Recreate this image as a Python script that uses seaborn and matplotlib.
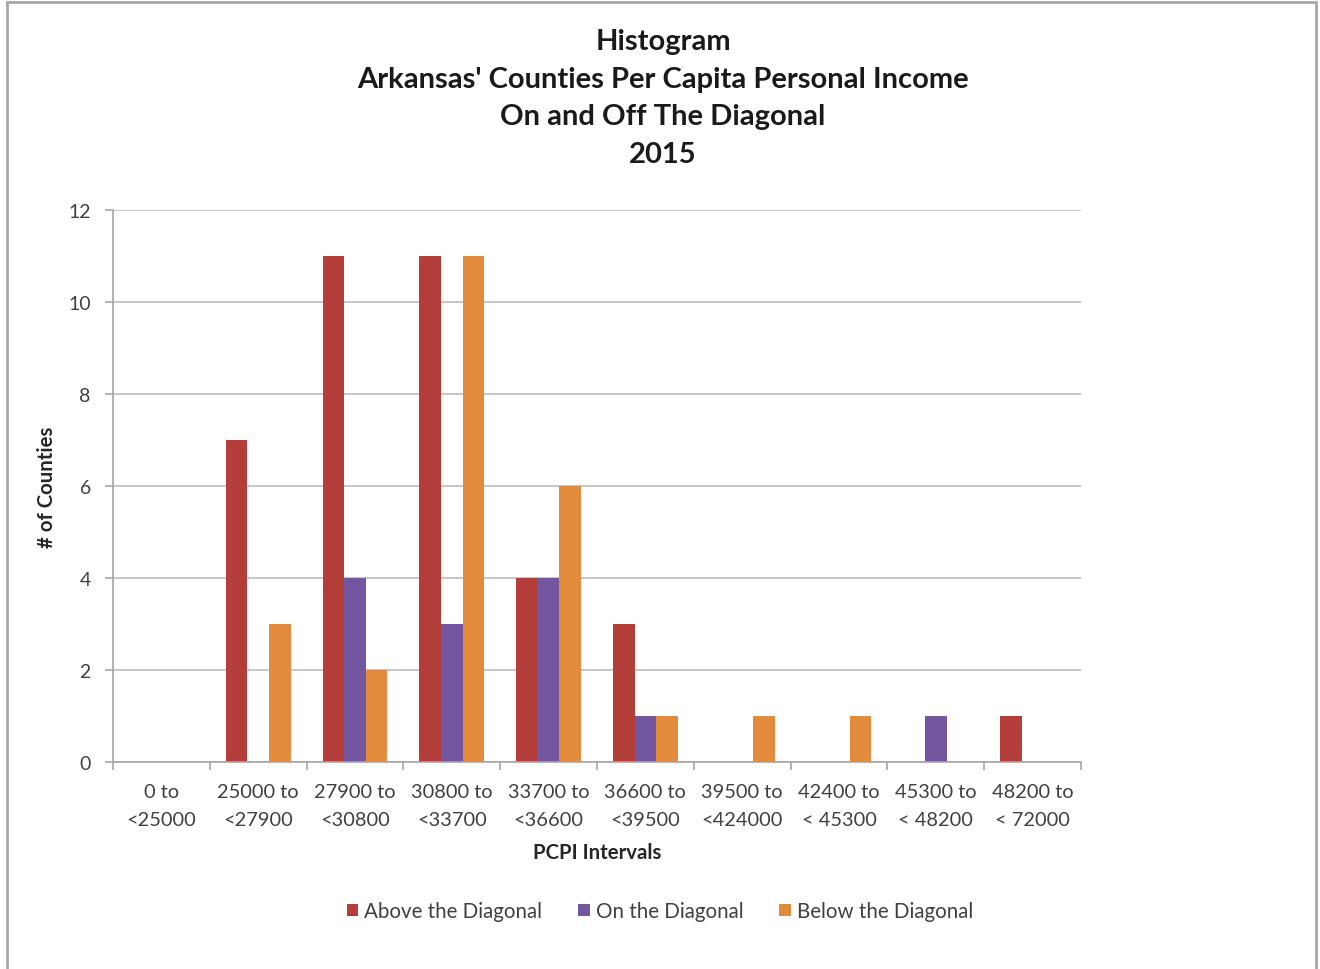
import matplotlib
matplotlib.use("Agg")
import matplotlib.pyplot as plt
import seaborn as sns
import pandas as pd
from matplotlib.patches import Rectangle

categories = ["0 to\n<25000", "25000 to\n<27900", "27900 to\n<30800", "30800 to\n<33700",
              "33700 to\n<36600", "36600 to\n<39500", "39500 to\n<424000", "42400 to\n< 45300",
              "45300 to\n< 48200", "48200 to\n< 72000"]
above = [0, 7, 11, 11, 4, 3, 0, 0, 0, 1]
on = [0, 0, 4, 3, 4, 1, 0, 0, 1, 0]
below = [0, 3, 2, 11, 6, 1, 1, 1, 0, 0]
series_names = ["Above the Diagonal", "On the Diagonal", "Below the Diagonal"]
colors = ["#B33E3A", "#7257A0", "#E38B3C"]

rows = []
for name, vals in zip(series_names, [above, on, below]):
    for c, v in zip(categories, vals):
        rows.append({"interval": c, "count": v, "series": name})
df = pd.DataFrame(rows)

sns.set_theme(style="white")
plt.rcParams['font.family'] = ['Lato', 'DejaVu Sans']

fig = plt.figure(figsize=(13.2, 9.7), dpi=100)
ax = fig.add_axes([113/1320, 1-763/970, (1081-113)/1320, (763-211)/970])

sns.barplot(data=df, x="interval", y="count", hue="series", order=categories,
            hue_order=series_names, palette=colors, width=0.67, saturation=1,
            edgecolor="none", linewidth=0, ax=ax, legend=True)

ax.set_ylim(0, 12)
ax.set_xlim(-0.5, 9.5)
ax.set_yticks(range(0, 13, 2))
ax.yaxis.grid(True, color="#BDBDBD", linewidth=1.2)
ax.set_axisbelow(True)
for s in ["top", "right"]:
    ax.spines[s].set_visible(False)
for s in ["left", "bottom"]:
    ax.spines[s].set_color("#A6A6A6")
    ax.spines[s].set_linewidth(1.2)

ax.set_xticks([i - 0.5 for i in range(11)], minor=True)
ax.tick_params(axis="x", which="major", length=0, pad=15, labelsize=14.4, labelcolor="#404040")
ax.tick_params(axis="x", which="minor", length=6, color="#A6A6A6", width=1.2, direction="out", bottom=True)
ax.tick_params(axis="y", which="major", length=6, color="#A6A6A6", width=1.2, direction="out", left=True,
               labelsize=14, labelcolor="#404040", pad=10)
for t in ax.get_xticklabels():
    t.set_linespacing(1.8)

ax.set_xlabel("PCPI Intervals", fontsize=14.7, fontweight="bold", color="#262626", labelpad=10)
ax.set_ylabel("# of Counties", fontsize=14.7, fontweight="bold", color="#262626", labelpad=8)

handles, labels = ax.get_legend_handles_labels()
ax.get_legend().remove()
fig.legend(handles, labels, loc="center", bbox_to_anchor=(660/1320, 1-912/970), ncol=3, frameon=False,
           fontsize=14.8, handlelength=0.55, handleheight=0.55, handletextpad=0.3, columnspacing=1.75,
           labelcolor="#404040")

fig.text(663/1320, 1-98.5/970, "Histogram\nArkansas' Counties Per Capita Personal Income\nOn and Off The Diagonal\n2015",
         ha="center", va="center", fontsize=21, fontweight="bold", color="#1a1a1a", linespacing=1.57)

fig.patches.append(Rectangle((7/1320, -0.02), (1316-7)/1320, 1-3/970+0.02, transform=fig.transFigure,
                             fill=False, edgecolor="#A8A8A8", linewidth=2))

fig.savefig("out.png", dpi=100, facecolor="white")
